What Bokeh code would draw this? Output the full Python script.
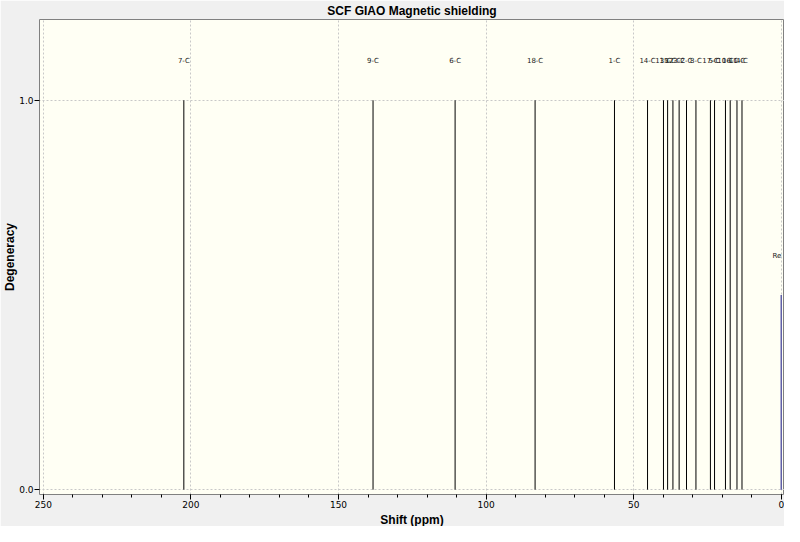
from bokeh.plotting import figure
from bokeh.models import Range1d, FixedTicker, ColumnDataSource, PrintfTickFormatter, Title
from bokeh.core.properties import value
from bokeh.embed import file_html
from bokeh.resources import INLINE

# Data
atoms = ["7-C", "9-C", "6-C", "18-C", "1-C", "14-C", "13-C", "15-C", "12-C", "3-C",
         "2-C", "8-C", "17-C", "5-C", "10-C", "16-C", "11-C", "4-C"]
shifts = [202.4, 138.3, 110.5, 83.4, 56.5, 45.3, 39.9, 38.5, 36.7, 34.6,
          32.1, 28.9, 24.0, 22.6, 18.9, 17.3, 15.0, 13.3]
degeneracy = [1.0, 1.0, 1.0, 1.0, 1.0, 1.0, 1.0, 1.0, 1.0, 1.0,
              1.0, 1.0, 1.0, 1.0, 1.0, 1.0, 1.0, 1.0]
ref_label = ["Re"]
ref_shift = [0.0]
ref_degeneracy = [0.5]
label_offset = 0.1
x_ticks = [250, 200, 150, 100, 50, 0]
x_minor = [250, 240, 230, 220, 210, 200, 190, 180, 170, 160, 150, 140, 130, 120, 110,
           100, 90, 80, 70, 60, 50, 40, 30, 20, 10, 0]
y_ticks = [0.0, 1.0]

src = ColumnDataSource(dict(x=shifts, y=degeneracy, lab=atoms,
                            ly=[d + label_offset for d in degeneracy],
                            y0=[0.0] * len(shifts)))
rsrc = ColumnDataSource(dict(x=ref_shift, y=ref_degeneracy, lab=ref_label,
                             ly=[d + label_offset for d in ref_degeneracy],
                             y0=[0.0]))

p = figure(width=784, height=526, output_backend="svg", toolbar_location=None,
           x_range=Range1d(251.3, -1.1), y_range=Range1d(-0.0125, 1.2075),
           title="SCF GIAO Magnetic shielding",
           min_border_top=0, min_border_left=0, min_border_right=0, min_border_bottom=0)

p.title.align = "center"
p.title.text_font = "Liberation Sans"
p.title.text_font_size = "12px"
p.title.text_font_style = "bold"
p.title.text_color = "black"
p.title.standoff = 3
p.title.offset = 0

p.background_fill_color = "#fffff4"
p.border_fill_color = "#f0f0f0"
p.outline_line_color = "#808080"

p.segment(x0="x", y0="y0", x1="x", y1="y", source=src, line_color="black", line_width=1)
p.segment(x0="x", y0="y0", x1="x", y1="y", source=rsrc, line_color="#6060a8", line_width=1.5)
p.text(x="x", y="ly", text="lab", source=src, text_align="center", text_baseline="middle",
       text_font=value("DejaVu Sans"), text_font_size="7px", text_color="#202020")
p.text(x="x", y="ly", text="lab", source=rsrc, text_align="right", text_baseline="middle",
       text_font=value("DejaVu Sans"), text_font_size="7px", text_color="#202020")

p.xaxis.ticker = FixedTicker(ticks=x_ticks, minor_ticks=x_minor)
p.yaxis.ticker = FixedTicker(ticks=y_ticks)
p.yaxis.formatter = PrintfTickFormatter(format="%.1f")
for ax in (p.xaxis[0], p.yaxis[0]):
    ax.major_label_text_font = "DejaVu Sans"
    ax.major_label_text_font_size = "9px"
    ax.major_label_text_color = "black"
    ax.axis_line_color = None
    ax.major_tick_line_color = "black"
    ax.minor_tick_line_color = "black"
    ax.major_tick_out = 5
    ax.major_tick_in = 0
    ax.minor_tick_out = 3
    ax.minor_tick_in = 0
    ax.major_label_standoff = 1
p.yaxis.minor_tick_line_color = None

xt = Title(text="Shift (ppm)", align="center", text_font="Liberation Sans",
           text_font_size="12px", text_font_style="bold", text_color="black",
           standoff=0, offset=0)
yt = Title(text="Degeneracy", align="center", text_font="Liberation Sans",
           text_font_size="12px", text_font_style="bold", text_color="black",
           standoff=0, offset=0)
p.add_layout(xt, "below")
p.add_layout(yt, "left")

for g in (p.xgrid[0], p.ygrid[0]):
    g.grid_line_color = "#c8c8c8"
    g.grid_line_dash = "2 2"

open("out.html", "w").write(file_html(p, INLINE))
